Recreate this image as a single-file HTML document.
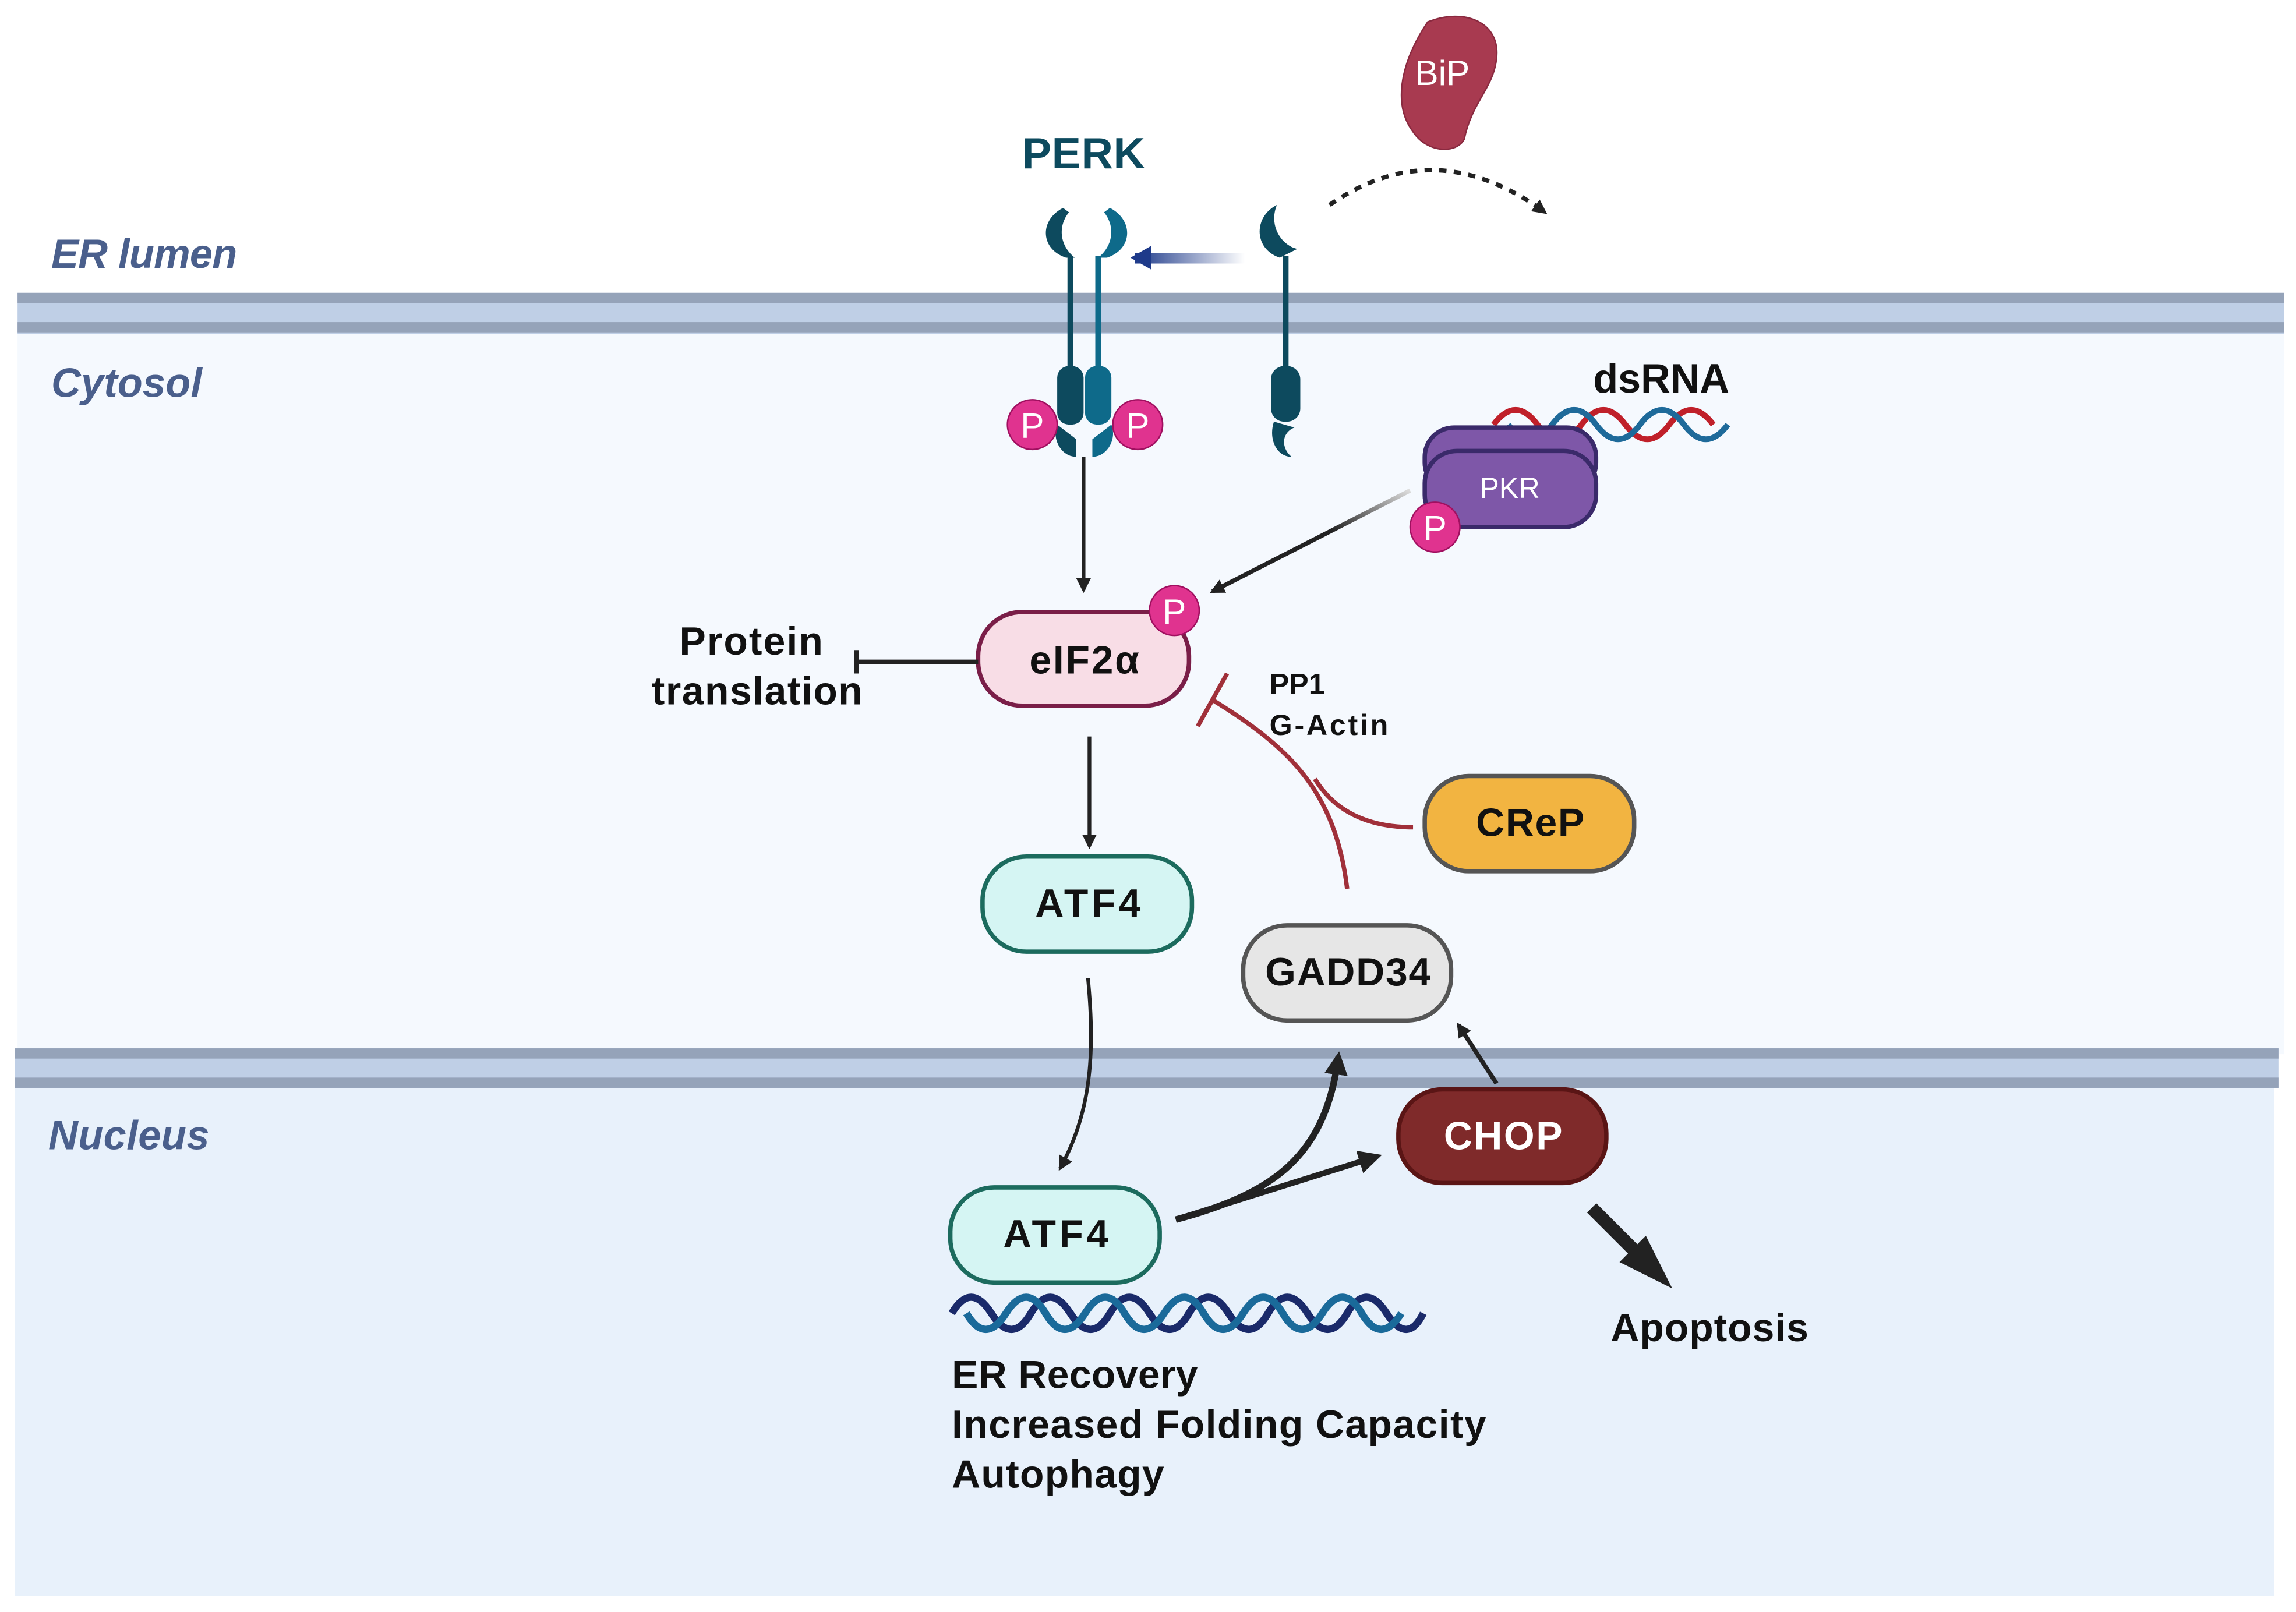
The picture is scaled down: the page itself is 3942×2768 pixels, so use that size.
<!DOCTYPE html>
<html><head><meta charset="utf-8"><style>
html,body{margin:0;padding:0;background:#fff}
svg{display:block}
text{font-family:"Liberation Sans",sans-serif;font-weight:bold}
</style></head><body>
<svg width="3942" height="2768" viewBox="0 0 1568 1101" preserveAspectRatio="none" xmlns="http://www.w3.org/2000/svg">
<defs>
<marker id="ah" markerWidth="10" markerHeight="10" refX="8" refY="5" orient="auto" markerUnits="userSpaceOnUse"><path d="M0,0 L10,5 L0,10 z" fill="#222"/></marker>
<marker id="ahb" markerWidth="16" markerHeight="16" refX="12" refY="8" orient="auto" markerUnits="userSpaceOnUse"><path d="M0,0 L16,8 L0,16 z" fill="#222"/></marker>
<linearGradient id="bg1" x1="0" x2="1"><stop offset="0" stop-color="#1e3a8a"/><stop offset="1" stop-color="#1e3a8a" stop-opacity="0"/></linearGradient>
<linearGradient id="pg" x1="1" y1="0" x2="0" y2="1"><stop offset="0" stop-color="#ddd"/><stop offset="0.4" stop-color="#222"/></linearGradient>
</defs>
<rect x="12" y="226" width="1548" height="494" fill="#f5f9fe"/>
<rect x="12" y="200" width="1548" height="28" fill="#bfcfe6"/>
<rect x="12" y="200" width="1548" height="7" fill="#95a3b9"/>
<rect x="12" y="220" width="1548" height="7" fill="#95a3b9"/>
<rect x="10" y="742" width="1543" height="348" fill="#e8f1fb"/>
<rect x="10" y="716" width="1546" height="27" fill="#bfcfe6"/>
<rect x="10" y="716" width="1546" height="7" fill="#95a3b9"/>
<rect x="10" y="736" width="1546" height="7" fill="#95a3b9"/>

<g font-style="italic" fill="#4a5f8c" font-size="28">
<text x="35" y="183" textLength="127">ER lumen</text>
<text x="35" y="271" textLength="103">Cytosol</text>
<text x="33" y="785" textLength="110">Nucleus</text>
</g>
<text x="698" y="115" font-size="30" fill="#0d4a5e" textLength="84">PERK</text>

<path d="M975,15 C1000,5 1025,15 1022,40 C1020,60 1005,70 1000,95 C995,105 975,105 965,90 C950,70 958,40 975,15z" fill="#a83a50" stroke="#8a2a40"/>
<text x="985" y="58" text-anchor="middle" font-size="24" fill="#fff" style="font-weight:normal">BiP</text>
<path d="M908,140 Q980,90 1055,145" fill="none" stroke="#222" stroke-width="3" stroke-dasharray="5,5" marker-end="url(#ah)"/>

<g fill="#0d4a5e">
<path d="M726,142 C710,150 710,170 728,176 L734,176 C724,168 722,155 730,145z"/>
<path d="M758,142 C774,150 774,170 756,176 L750,176 C760,168 762,155 754,145z" fill="#0e6a8a"/>
<rect x="729" y="175" width="4" height="80"/>
<rect x="748" y="175" width="4" height="80" fill="#0e6a8a"/>
<rect x="722" y="250" width="18" height="40" rx="8"/>
<rect x="741" y="250" width="18" height="40" rx="8" fill="#0e6a8a"/>
<path d="M722,290 C718,300 725,312 735,312 L735,300z"/>
<path d="M759,290 C763,300 756,312 746,312 L746,300z" fill="#0e6a8a"/>
<path d="M872,140 C856,148 856,170 874,176 L886,170 C876,168 866,155 872,140z"/>
<rect x="876" y="175" width="4" height="80"/>
<rect x="868" y="250" width="20" height="38" rx="9"/>
<path d="M870,288 C866,300 872,312 882,312 C874,305 876,295 884,292z"/>
</g>
<rect x="775" y="173" width="75" height="7" fill="url(#bg1)"/>
<path d="M772,176 L786,168 L786,184z" fill="#1e3a8a"/>
<g font-size="24" fill="#fff" text-anchor="middle">
<circle cx="705" cy="290" r="17" fill="#e0338f" stroke="#a01060"/>
<text x="705" y="299" style="font-weight:normal">P</text>
<circle cx="777" cy="290" r="17" fill="#e0338f" stroke="#a01060"/>
<text x="777" y="299" style="font-weight:normal">P</text>
</g>

<path d="M1020,290 Q1035,270 1050,290 T1080,290 T1110,290 T1140,290 T1170,290" fill="none" stroke="#c0202a" stroke-width="4"/>
<path d="M1030,290 Q1045,310 1060,290 T1090,290 T1120,290 T1150,290 T1180,290" fill="none" stroke="#1e6a9a" stroke-width="4"/>
<text x="1088" y="268" font-size="28" fill="#111" textLength="93">dsRNA</text>
<rect x="973" y="292" width="117" height="44" rx="20" fill="#7e57a8" stroke="#3a2a6a" stroke-width="3"/>
<rect x="973" y="308" width="117" height="52" rx="22" fill="#7e57a8" stroke="#3a2a6a" stroke-width="3"/>
<text x="1031" y="340" text-anchor="middle" font-size="20" fill="#fff" style="font-weight:normal">PKR</text>
<circle cx="980" cy="360" r="17" fill="#e0338f" stroke="#a01060"/>
<text x="980" y="369" text-anchor="middle" font-size="24" fill="#fff" style="font-weight:normal">P</text>

<line x1="963" y1="335" x2="828" y2="404" stroke="url(#pg)" stroke-width="3" marker-end="url(#ah)"/>
<line x1="740" y1="312" x2="740" y2="403" stroke="#222" stroke-width="2.5" marker-end="url(#ah)"/>

<rect x="668" y="418" width="144" height="64" rx="30" fill="#f8dde6" stroke="#7a1e48" stroke-width="3"/>
<text x="703" y="460" font-size="27" fill="#111" textLength="75">eIF2α</text>
<circle cx="802" cy="417" r="17" fill="#e0338f" stroke="#a01060"/>
<text x="802" y="426" text-anchor="middle" font-size="24" fill="#fff" style="font-weight:normal">P</text>
<line x1="668" y1="452" x2="585" y2="452" stroke="#222" stroke-width="3"/>
<line x1="585" y1="444" x2="585" y2="460" stroke="#222" stroke-width="3"/>
<text x="464" y="447" font-size="27" fill="#111" textLength="98">Protein</text>
<text x="445" y="481" font-size="27" fill="#111" textLength="144">translation</text>
<text x="867" y="474" font-size="20" fill="#111">PP1</text>
<text x="867" y="502" font-size="20" fill="#111" textLength="81">G-Actin</text>

<path d="M920,607 C912,540 880,510 828,478" fill="none" stroke="#a0303a" stroke-width="3"/>
<path d="M965,565 C935,565 912,555 898,532" fill="none" stroke="#a0303a" stroke-width="3"/>
<line x1="818" y1="496" x2="838" y2="460" stroke="#a0303a" stroke-width="3"/>

<line x1="744" y1="503" x2="744" y2="578" stroke="#222" stroke-width="2.5" marker-end="url(#ah)"/>
<rect x="671" y="585" width="143" height="65" rx="30" fill="#d5f5f3" stroke="#1c6b5e" stroke-width="3"/>
<text x="707" y="626" font-size="27" fill="#111" textLength="72">ATF4</text>
<rect x="973" y="530" width="143" height="65" rx="30" fill="#f2b441" stroke="#555" stroke-width="3"/>
<text x="1008" y="571" font-size="27" fill="#111" textLength="74">CReP</text>
<rect x="849" y="632" width="142" height="65" rx="30" fill="#e6e6e6" stroke="#555" stroke-width="3"/>
<text x="864" y="673" font-size="27" fill="#111" textLength="113">GADD34</text>

<path d="M743,668 C748,720 745,760 724,798" fill="none" stroke="#222" stroke-width="2.5" marker-end="url(#ah)"/>
<rect x="649" y="811" width="143" height="65" rx="30" fill="#d5f5f3" stroke="#1c6b5e" stroke-width="3"/>
<text x="685" y="852" font-size="27" fill="#111" textLength="72">ATF4</text>
<rect x="955" y="744" width="142" height="64" rx="30" fill="#7f2a2a" stroke="#5a1515" stroke-width="3"/>
<text x="986" y="785" font-size="27" fill="#fff" textLength="81">CHOP</text>

<path d="M803,833 C870,815 905,790 914,722" fill="none" stroke="#222" stroke-width="4.5" marker-end="url(#ahb)"/>
<line x1="803" y1="833" x2="940" y2="790" stroke="#222" stroke-width="4" marker-end="url(#ahb)"/>
<line x1="1022" y1="740" x2="996" y2="700" stroke="#222" stroke-width="3" marker-end="url(#ah)"/>
<line x1="1087" y1="825" x2="1130" y2="868" stroke="#222" stroke-width="9"/>
<path d="M1142,880 L1106,862 L1124,844z" fill="#222"/>

<path d="M650,897 Q663,875 677,897 T704,897 T731,897 T758,897 T785,897 T812,897 T839,897 T866,897 T893,897 T920,897 T947,897 T972,897" fill="none" stroke="#1a2a6a" stroke-width="5"/>
<path d="M660,897 Q673,919 687,897 T714,897 T741,897 T768,897 T795,897 T822,897 T849,897 T876,897 T903,897 T930,897 T957,897" fill="none" stroke="#1a6a9a" stroke-width="5"/>

<text x="1100" y="916" font-size="27" fill="#111" textLength="135">Apoptosis</text>
<g font-size="27" fill="#111">
<text x="650" y="948" textLength="168">ER Recovery</text>
<text x="650" y="982" textLength="365">Increased Folding Capacity</text>
<text x="650" y="1016" textLength="145">Autophagy</text>
</g>
</svg>
</body></html>
